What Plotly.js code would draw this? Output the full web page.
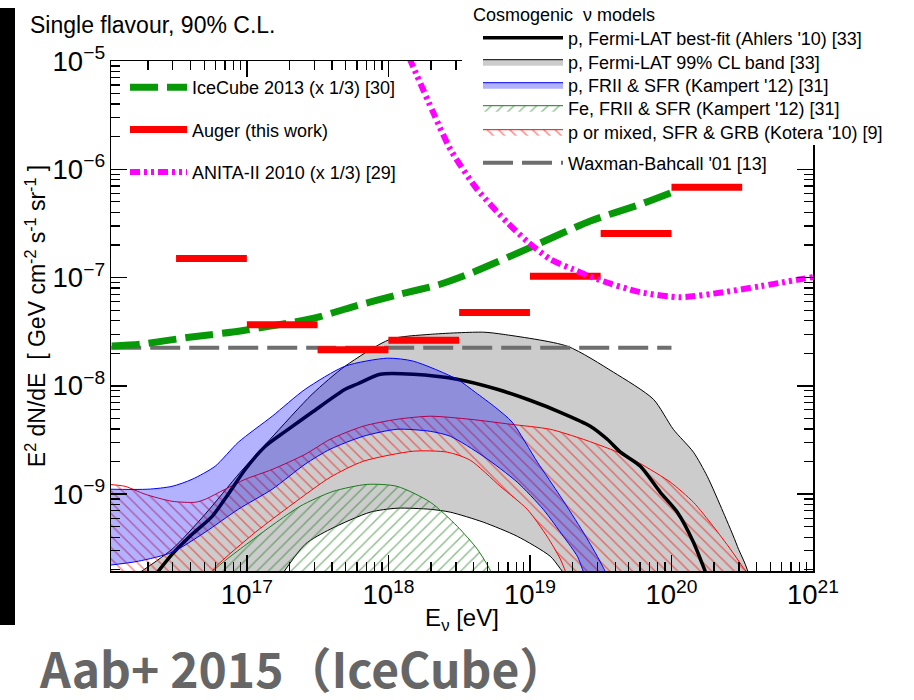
<!DOCTYPE html>
<html>
<head>
<meta charset="utf-8">
<script src="https://cdn.plot.ly/plotly-3.0.1.min.js"></script>
<style>html,body{margin:0;padding:0;background:#fff;}#chart{width:914px;height:700px;}</style>
</head>
<body>
<div id="chart"></div>
<script>
// ---------------- data (E in eV, flux in GeV cm^-2 s^-1 sr^-1) ----------------
// IceCube 2013 (x 1/3)
const iceE = [1.11e16, 1.76e16, 3.77e16, 8.97e16, 2.38e17, 3.13e17, 5.37e17, 1.21e18, 2.32e18, 3.97e18, 1.0e19, 2.67e19, 6.03e19, 1.0e20];
const iceF = [2.33e-8, 2.42e-8, 2.79e-8, 3.21e-8, 3.97e-8, 4.28e-8, 5.28e-8, 7.02e-8, 8.67e-8, 1.12e-7, 1.89e-7, 3.33e-7, 4.75e-7, 6.10e-7];

// Auger (this work) - half-decade differential limits
const augerElo = [3.16e16, 1e17, 3.16e17, 1e18, 3.16e18, 1e19, 3.16e19, 1e20];
const augerEhi = [1e17, 3.16e17, 1e18, 3.16e18, 1e19, 3.16e19, 1e20, 3.16e20];
const augerF   = [1.5e-7, 3.66e-8, 2.15e-8, 2.64e-8, 4.75e-8, 1.03e-7, 2.55e-7, 6.83e-7];

// ANITA-II 2010 (x 1/3)
const anitaE = [1.40e18, 2.07e18, 2.74e18, 4.24e18, 6.90e18, 9.57e18, 1.39e19, 2.02e19, 2.99e19, 6.03e19, 1.16e20, 2.33e20, 4.25e20, 1.0e21];
const anitaF = [1.08e-5, 3.36e-6, 1.53e-6, 6.53e-7, 3.24e-7, 2.16e-7, 1.48e-7, 1.19e-7, 9.66e-8, 7.33e-8, 6.58e-8, 7.33e-8, 8.32e-8, 1.01e-7];

// Waxman-Bahcall '01
const wbE = [1.1e16, 1e20];
const wbF = [2.25e-8, 2.25e-8];

// p, Fermi-LAT best-fit (Ahlers '10)
const bfE = [2.14e16, 2.96e16, 4.10e16, 5.69e16, 7.38e16, 9.73e16, 1.35e17, 1.87e17, 2.89e17, 4.95e17, 6.03e17, 8.75e17, 1.50e18, 3.06e18, 5.87e18, 1.00e19, 1.64e19, 2.67e19, 3.52e19, 4.36e19, 6.03e19, 8.34e19, 1.10e20, 1.43e20, 1.73e20, 1.82e20];
const bfF = [1.64e-10, 2.78e-10, 4.26e-10, 6.24e-10, 9.98e-10, 1.69e-9, 2.77e-9, 3.80e-9, 5.70e-9, 9.29e-9, 1.04e-8, 1.28e-8, 1.28e-8, 1.15e-8, 9.29e-9, 7.36e-9, 5.70e-9, 4.24e-9, 3.21e-9, 2.44e-9, 1.81e-9, 1.04e-9, 6.81e-10, 3.60e-10, 1.94e-10, 1.64e-10];

// p, Fermi-LAT 99% CL band
const grayUpE = [1.45e16, 2.96e16, 5.07e16, 8.97e16, 1.46e17, 2.89e17, 4.95e17, 1.03e18, 1.98e18, 4.68e18, 6.47e18, 1.84e19, 3.88e19, 7.45e19, 1.03e20, 1.43e20, 1.79e20, 2.32e20, 2.92e20, 3.47e20];
const grayUpF = [1.6e-10, 3.10e-10, 6.52e-10, 1.59e-9, 3.21e-9, 8.36e-9, 1.52e-8, 2.69e-8, 2.99e-8, 3.13e-8, 2.99e-8, 2.32e-8, 1.34e-8, 7.52e-9, 3.97e-9, 2.44e-9, 1.46e-9, 6.81e-10, 3.30e-10, 1.6e-10];
const grayLoE = [1.66e17, 2.58e17, 3.88e17, 7.43e17, 1.15e18, 1.98e18, 2.74e18, 4.68e18, 8.13e18, 1.39e19, 2.0e19];
const grayLoF = [1.6e-10, 3.44e-10, 4.74e-10, 6.81e-10, 7.41e-10, 7.24e-10, 6.81e-10, 5.51e-10, 4.08e-10, 2.67e-10, 1.6e-10];

// p, FRII & SFR (Kampert '12)
const blueUpE = [1.05e16, 2.00e16, 2.96e16, 4.10e16, 5.97e16, 8.69e16, 1.51e17, 2.58e17, 4.95e17, 9.82e17, 1.50e18, 3.06e18, 4.11e18, 5.69e18, 7.50e18, 1.13e19, 1.64e19, 2.38e19, 2.99e19, 3.40e19, 3.63e19];
const blueUpF = [1.11e-9, 1.11e-9, 1.18e-9, 1.37e-9, 1.81e-9, 3.01e-9, 5.24e-9, 9.29e-9, 1.52e-8, 1.80e-8, 1.69e-8, 1.15e-8, 8.73e-9, 6.34e-9, 4.61e-9, 1.97e-9, 9.55e-10, 4.45e-10, 2.67e-10, 1.94e-10, 1.64e-10];
const blueLoE = [1.05e16, 1.71e16, 2.96e16, 5.07e16, 8.69e16, 1.51e17, 2.58e17, 3.88e17, 6.64e17, 1.15e18, 1.98e18, 2.74e18, 4.68e18, 8.13e18, 1.24e19, 1.72e19, 2.16e19, 2.38e19, 2.51e19];
const blueLoF = [2.20e-10, 2.40e-10, 2.90e-10, 4.45e-10, 7.24e-10, 1.11e-9, 1.89e-9, 2.60e-9, 3.42e-9, 3.97e-9, 3.80e-9, 3.42e-9, 2.24e-9, 1.29e-9, 7.24e-10, 4.08e-10, 2.67e-10, 1.94e-10, 1.64e-10];

// Fe, FRII & SFR (Kampert '12)
const greenE = [5.52e16, 5.78e16, 1.11e17, 2.38e17, 4.07e17, 7.08e17, 1.15e18, 1.98e18, 3.06e18, 4.25e18, 5.24e18, 5.5e18];
const greenF = [1.64e-10, 1.94e-10, 3.83e-10, 7.73e-10, 1.06e-9, 1.23e-9, 1.18e-9, 8.41e-10, 5.05e-10, 3.10e-10, 1.98e-10, 1.64e-10];

// p or mixed, SFR & GRB (Kotera '10)
const redUpE = [1.05e16, 1.38e16, 1.91e16, 2.96e16, 4.32e16, 5.07e16, 7.03e16, 9.73e16, 1.51e17, 2.58e17, 3.88e17, 6.64e17, 1.15e18, 1.98e18, 3.78e18, 7.26e18, 1.39e19, 2.38e19, 3.70e19, 4.85e19, 7.08e19, 9.82e19, 1.43e20, 1.97e20, 2.61e20, 3.16e20, 3.61e20];
const redUpF = [1.23e-9, 1.18e-9, 9.98e-10, 8.59e-10, 8.41e-10, 8.95e-10, 1.11e-9, 1.37e-9, 1.69e-9, 2.33e-9, 3.21e-9, 4.24e-9, 4.91e-9, 5.24e-9, 4.91e-9, 4.42e-9, 3.97e-9, 3.21e-9, 2.60e-9, 2.24e-9, 1.69e-9, 1.29e-9, 8.41e-10, 5.05e-10, 3.10e-10, 2.16e-10, 1.64e-10];
const redLoE = [1.05e16, 5.07e16, 5.97e16, 1.15e17, 2.09e17, 3.88e17, 6.64e17, 1.50e18, 2.61e18, 3.78e18, 6.17e18, 9.57e18, 1.32e19, 1.64e19, 1.78e19, 1.86e19];
const redLoF = [1.6e-10, 1.6e-10, 2.11e-10, 4.45e-10, 8.05e-10, 1.43e-9, 2.01e-9, 2.49e-9, 2.44e-9, 2.06e-9, 1.18e-9, 7.24e-10, 4.08e-10, 2.51e-10, 1.94e-10, 1.64e-10];

// ---------------- helpers ----------------
function band(upE, upF, loE, loF) {
  return { x: upE.concat(loE.slice().reverse()), y: upF.concat(loF.slice().reverse()) };
}
function segments(lo, hi, v) {
  const x = [], y = [];
  for (let i = 0; i < v.length; i++) { x.push(lo[i], hi[i], null); y.push(v[i], v[i], null); }
  return { x, y };
}

const gray = band(grayUpE, grayUpF, grayLoE, grayLoF);
const blue = band(blueUpE, blueUpF, blueLoE, blueLoF);
const red  = band(redUpE, redUpF, redLoE, redLoF);
const green = { x: greenE, y: greenF };
const auger = segments(augerElo, augerEhi, augerF);

const SM = 0.7;
const traces = [
  { name: "p, Fermi-LAT 99% CL band [33]", x: gray.x, y: gray.y, mode: 'lines', fill: 'toself',
    fillcolor: '#cccccc', line: { color: '#000', width: 1, shape: 'spline', smoothing: SM },
    legend: 'legend3', hoverinfo: 'skip' },
  { name: "Fe, FRII &amp; SFR (Kampert '12) [31]", x: green.x, y: green.y, mode: 'lines', fill: 'toself',
    fillcolor: 'rgba(0,0,0,0)',
    fillpattern: { shape: '/', fgcolor: '#1a7a1a', bgcolor: 'rgba(0,0,0,0)', fillmode: 'overlay', size: 8, solidity: 0.18 },
    line: { color: '#1a7a1a', width: 1, shape: 'spline', smoothing: SM },
    legend: 'legend5', hoverinfo: 'skip' },
  { name: "p or mixed, SFR &amp; GRB (Kotera '10) [9]", x: red.x, y: red.y, mode: 'lines', fill: 'toself',
    fillcolor: 'rgba(0,0,0,0)',
    fillpattern: { shape: '\\', fgcolor: '#ff0000', bgcolor: 'rgba(0,0,0,0)', fillmode: 'overlay', size: 8, solidity: 0.18 },
    line: { color: '#ff0000', width: 1, shape: 'spline', smoothing: SM },
    legend: 'legend6', hoverinfo: 'skip' },
  { name: "p, Fermi-LAT best-fit (Ahlers '10) [33]", x: bfE, y: bfF, mode: 'lines',
    line: { color: '#000', width: 3.5, shape: 'spline', smoothing: SM },
    legend: 'legend2', hoverinfo: 'skip' },
  { name: "p, FRII &amp; SFR (Kampert '12) [31]", x: blue.x, y: blue.y, mode: 'lines', fill: 'toself',
    fillcolor: 'rgba(0,0,255,0.30)', line: { color: '#0000ff', width: 1, shape: 'spline', smoothing: SM },
    legend: 'legend4', hoverinfo: 'skip' },
  { name: "Waxman-Bahcall '01 [13]", x: wbE, y: wbF, mode: 'lines',
    line: { color: '#6e6e6e', width: 4, dash: '30px,9px' },
    legend: 'legend7', hoverinfo: 'skip' },
  { name: "IceCube 2013 (x 1/3) [30]", x: iceE, y: iceF, mode: 'lines',
    line: { color: '#079907', width: 7, dash: '28px,9px', shape: 'spline', smoothing: SM },
    legend: 'legend', legendgroup: 'a', legendrank: 1, hoverinfo: 'skip' },
  { name: "Auger (this work)", x: auger.x, y: auger.y, mode: 'lines',
    line: { color: '#ff0000', width: 7 },
    legend: 'legend', legendgroup: 'b', legendrank: 2, hoverinfo: 'skip' },
  { name: "ANITA-II 2010 (x 1/3) [29]", x: anitaE, y: anitaF, mode: 'lines',
    line: { color: '#ff00ff', width: 6, dash: '10px,4px,3px,4px,3px,4px', shape: 'spline', smoothing: SM },
    legend: 'legend', legendgroup: 'c', legendrank: 3, hoverinfo: 'skip' }
];

// plot area in pixels: x 111..813, y 61..571
const PW = 702, PH = 510, PL = 111, PB = 571;
const px = v => (v - PL) / PW;
const py = v => (PB - v) / PH;

const FONT = 'Liberation Sans, Arial, Helvetica, sans-serif';
const axisCommon = {
  type: 'log', dtick: 1, exponentformat: 'power', showgrid: false, zeroline: false, automargin: false,
  showline: true, linecolor: '#000', linewidth: 1.5, mirror: 'ticks',
  ticks: 'inside', ticklen: 16, tickwidth: 1.5, tickcolor: '#000',
  tickfont: { size: 22, color: '#000', family: FONT },
  minor: { ticks: 'inside', ticklen: 9, tickwidth: 1.2, tickcolor: '#000', dtick: 'D1', showgrid: false }
};

const LFONT = { size: 18, family: FONT, color: '#000' };
function modelLegend(yc) {
  return { x: px(462), y: py(yc), xanchor: 'left', yanchor: 'middle', bgcolor: 'rgba(0,0,0,0)',
           font: LFONT, indentation: 16, itemwidth: 80 };
}

const layout = {
  width: 914, height: 700,
  margin: { l: 111, r: 101, t: 61, b: 129 },
  paper_bgcolor: '#fff', plot_bgcolor: '#fff',
  font: { family: FONT, color: '#000' },
  title: { text: 'Single flavour, 90% C.L.', xref: 'container', yref: 'container',
           x: 30 / 914, xanchor: 'left', y: 1 - 25 / 700, yanchor: 'middle',
           font: { size: 23, color: '#000', family: FONT } },
  xaxis: Object.assign({}, axisCommon, { range: [16.04, 21],
    title: { text: 'E<sub>ν</sub> [eV]', font: { size: 24, family: FONT }, standoff: 0 } }),
  yaxis: Object.assign({}, axisCommon, { range: [-9.71, -5],
    title: { text: 'E<sup>2</sup> dN/dE  [ GeV cm<sup>-2</sup> s<sup>-1</sup> sr<sup>-1</sup> ]', font: { size: 23, family: FONT }, standoff: 0 } }),
  legend: { x: px(115), y: py(130), xanchor: 'left', yanchor: 'middle',
            bgcolor: 'rgba(0,0,0,0)', font: LFONT, tracegroupgap: 16,
            indentation: 10, itemwidth: 57 },
  legend2: modelLegend(38),
  legend3: modelLegend(62),
  legend4: modelLegend(85),
  legend5: modelLegend(108),
  legend6: modelLegend(132),
  legend7: modelLegend(163),
  shapes: [
    // white legend box (hides the frame under the model legend, as in the original)
    { type: 'rect', xref: 'paper', yref: 'paper', x0: px(462), x1: px(905),
      y0: py(145), y1: py(0), fillcolor: '#fff', line: { width: 0 }, layer: 'above' },
    { type: 'rect', xref: 'paper', yref: 'paper', x0: px(0), x1: px(15),
      y0: py(625), y1: py(8), fillcolor: '#000', line: { width: 0 }, layer: 'above' }
  ],
  annotations: [
    { xref: 'paper', yref: 'paper', x: px(471), y: py(15), xanchor: 'left', yanchor: 'middle',
      showarrow: false, text: 'Cosmogenic  ν models', font: LFONT },
    { xref: 'paper', yref: 'paper', x: px(37), y: py(667), xanchor: 'left', yanchor: 'middle',
      showarrow: false, text: 'Aab+ 2015（IceCube）',
      font: { family: 'Noto Sans CJK SC, Noto Sans, sans-serif', size: 48, color: '#666666', weight: 700 } }
  ]
};

Plotly.newPlot('chart', traces, layout, { displayModeBar: false, staticPlot: true });
</script>
</body>
</html>
